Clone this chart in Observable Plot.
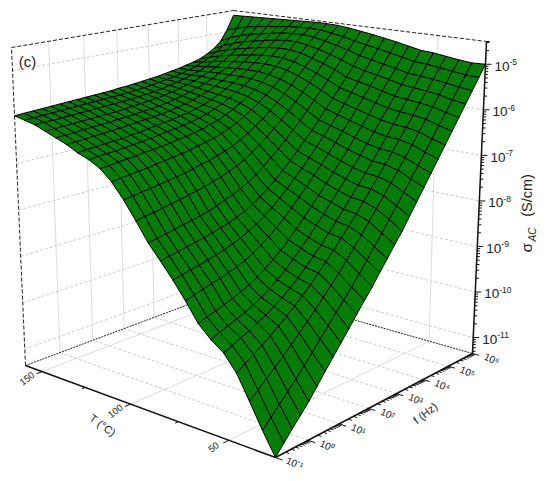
<!DOCTYPE html>
<html><head><meta charset="utf-8">
<style>html,body{margin:0;padding:0;background:#fff}svg{display:block}</style>
<script src="https://cdn.jsdelivr.net/npm/d3@7"></script>
<script src="https://cdn.jsdelivr.net/npm/@observablehq/plot@0.6"></script>
</head><body><div id="chart"></div>
<script>
const temperatures = [28,34,40,46,52,58,64,70,76,82,88,94,100,106,112,118,124,130,136,142,148,154,160];
const logFreqs = [-1,-0.75,-0.5,-0.25,0,0.25,0.5,0.75,1,1.25,1.5,1.75,2,2.25,2.5,2.75,3,3.25,3.5,3.75,4,4.25,4.5,4.75,5,5.25,5.5,5.75,6];
const logSigma = [
[-11.35,-11.16,-10.97,-10.79,-10.60,-10.39,-10.17,-9.96,-9.75,-9.54,-9.32,-9.11,-8.90,-8.67,-8.45,-8.22,-8.00,-7.75,-7.50,-7.25,-7.00,-6.75,-6.50,-6.25,-6.00,-5.75,-5.50,-5.25,-5.00],
[-10.93,-10.76,-10.59,-10.42,-10.25,-10.07,-9.88,-9.68,-9.49,-9.29,-9.11,-8.91,-8.71,-8.49,-8.27,-8.05,-7.82,-7.59,-7.36,-7.13,-6.90,-6.66,-6.42,-6.18,-5.94,-5.71,-5.47,-5.24,-5.01],
[-10.46,-10.32,-10.17,-10.03,-9.89,-9.73,-9.57,-9.41,-9.24,-9.06,-8.88,-8.70,-8.50,-8.30,-8.09,-7.87,-7.66,-7.44,-7.22,-7.00,-6.78,-6.55,-6.32,-6.09,-5.86,-5.64,-5.42,-5.20,-4.98],
[-10.00,-9.89,-9.79,-9.68,-9.56,-9.44,-9.31,-9.17,-9.03,-8.87,-8.70,-8.53,-8.35,-8.16,-7.97,-7.77,-7.56,-7.35,-7.14,-6.93,-6.71,-6.49,-6.27,-6.05,-5.82,-5.60,-5.38,-5.16,-4.94],
[-9.69,-9.62,-9.54,-9.47,-9.38,-9.30,-9.19,-9.08,-8.95,-8.81,-8.65,-8.48,-8.31,-8.12,-7.93,-7.73,-7.53,-7.33,-7.12,-6.91,-6.69,-6.47,-6.25,-6.02,-5.79,-5.57,-5.35,-5.12,-4.90],
[-9.51,-9.44,-9.38,-9.31,-9.25,-9.16,-9.08,-8.97,-8.85,-8.70,-8.55,-8.38,-8.21,-8.02,-7.84,-7.64,-7.45,-7.25,-7.05,-6.84,-6.63,-6.42,-6.20,-5.98,-5.76,-5.54,-5.32,-5.10,-4.88],
[-9.27,-9.21,-9.16,-9.10,-9.04,-8.97,-8.90,-8.80,-8.69,-8.56,-8.43,-8.27,-8.10,-7.92,-7.73,-7.55,-7.35,-7.16,-6.96,-6.76,-6.55,-6.34,-6.13,-5.91,-5.69,-5.47,-5.26,-5.04,-4.82],
[-8.90,-8.85,-8.80,-8.75,-8.71,-8.65,-8.60,-8.53,-8.44,-8.33,-8.22,-8.08,-7.93,-7.77,-7.59,-7.42,-7.23,-7.05,-6.86,-6.66,-6.46,-6.26,-6.05,-5.84,-5.62,-5.41,-5.20,-4.98,-4.76],
[-8.56,-8.52,-8.48,-8.45,-8.40,-8.36,-8.31,-8.25,-8.19,-8.10,-8.01,-7.89,-7.77,-7.62,-7.47,-7.30,-7.13,-6.95,-6.76,-6.57,-6.38,-6.18,-5.98,-5.77,-5.56,-5.35,-5.14,-4.92,-4.71],
[-8.25,-8.21,-8.18,-8.14,-8.11,-8.07,-8.03,-7.98,-7.94,-7.87,-7.80,-7.70,-7.60,-7.47,-7.34,-7.18,-7.02,-6.85,-6.67,-6.49,-6.30,-6.10,-5.90,-5.70,-5.50,-5.29,-5.08,-4.87,-4.66],
[-7.95,-7.92,-7.88,-7.85,-7.81,-7.78,-7.74,-7.70,-7.64,-7.57,-7.51,-7.43,-7.34,-7.23,-7.10,-6.96,-6.81,-6.66,-6.49,-6.32,-6.14,-5.95,-5.76,-5.57,-5.37,-5.18,-4.99,-4.81,-4.62],
[-7.57,-7.54,-7.51,-7.48,-7.44,-7.41,-7.37,-7.33,-7.29,-7.23,-7.19,-7.12,-7.05,-6.96,-6.85,-6.73,-6.60,-6.46,-6.31,-6.15,-5.98,-5.81,-5.63,-5.45,-5.27,-5.09,-4.92,-4.75,-4.58],
[-7.21,-7.18,-7.15,-7.13,-7.10,-7.07,-7.04,-7.01,-6.97,-6.92,-6.89,-6.83,-6.78,-6.71,-6.62,-6.52,-6.41,-6.29,-6.15,-6.00,-5.85,-5.69,-5.52,-5.35,-5.18,-5.01,-4.85,-4.70,-4.55],
[-6.90,-6.87,-6.85,-6.83,-6.81,-6.78,-6.75,-6.73,-6.70,-6.67,-6.63,-6.59,-6.55,-6.49,-6.42,-6.34,-6.24,-6.13,-6.01,-5.88,-5.74,-5.59,-5.43,-5.27,-5.10,-4.95,-4.80,-4.66,-4.54],
[-6.68,-6.67,-6.64,-6.63,-6.61,-6.58,-6.57,-6.55,-6.52,-6.49,-6.47,-6.43,-6.40,-6.34,-6.29,-6.21,-6.13,-6.03,-5.92,-5.80,-5.67,-5.53,-5.38,-5.22,-5.06,-4.91,-4.77,-4.65,-4.54],
[-6.55,-6.53,-6.52,-6.51,-6.49,-6.47,-6.45,-6.43,-6.40,-6.37,-6.35,-6.32,-6.29,-6.24,-6.19,-6.12,-6.05,-5.96,-5.86,-5.75,-5.63,-5.50,-5.36,-5.21,-5.06,-4.91,-4.78,-4.66,-4.55],
[-6.46,-6.44,-6.43,-6.41,-6.40,-6.39,-6.36,-6.35,-6.31,-6.29,-6.26,-6.24,-6.20,-6.17,-6.12,-6.07,-6.00,-5.92,-5.83,-5.73,-5.62,-5.50,-5.37,-5.23,-5.08,-4.94,-4.80,-4.68,-4.56],
[-6.34,-6.33,-6.31,-6.30,-6.29,-6.27,-6.26,-6.24,-6.22,-6.20,-6.18,-6.16,-6.13,-6.10,-6.06,-6.01,-5.95,-5.89,-5.81,-5.72,-5.62,-5.51,-5.39,-5.26,-5.12,-4.98,-4.84,-4.71,-4.57],
[-6.25,-6.24,-6.23,-6.21,-6.20,-6.19,-6.18,-6.16,-6.15,-6.13,-6.11,-6.09,-6.07,-6.04,-6.00,-5.96,-5.91,-5.85,-5.79,-5.71,-5.62,-5.53,-5.42,-5.30,-5.17,-5.03,-4.89,-4.74,-4.58],
[-6.16,-6.15,-6.14,-6.13,-6.12,-6.11,-6.10,-6.09,-6.08,-6.06,-6.04,-6.02,-6.00,-5.98,-5.95,-5.91,-5.87,-5.82,-5.77,-5.70,-5.63,-5.55,-5.45,-5.34,-5.22,-5.08,-4.93,-4.77,-4.59],
[-6.07,-6.06,-6.06,-6.05,-6.04,-6.03,-6.02,-6.01,-6.00,-5.99,-5.98,-5.97,-5.95,-5.93,-5.91,-5.88,-5.84,-5.80,-5.76,-5.71,-5.65,-5.58,-5.49,-5.39,-5.28,-5.15,-5.00,-4.82,-4.60],
[-6.02,-6.01,-6.00,-5.99,-5.98,-5.97,-5.96,-5.95,-5.94,-5.93,-5.92,-5.91,-5.90,-5.88,-5.86,-5.84,-5.81,-5.78,-5.75,-5.71,-5.66,-5.61,-5.54,-5.46,-5.36,-5.24,-5.08,-4.88,-4.61],
[-5.97,-5.96,-5.95,-5.94,-5.93,-5.92,-5.91,-5.90,-5.89,-5.88,-5.87,-5.86,-5.84,-5.83,-5.81,-5.79,-5.77,-5.75,-5.72,-5.69,-5.66,-5.62,-5.58,-5.53,-5.45,-5.35,-5.20,-4.95,-4.62]
];
const tempTicks = [50,100,150];
const tempMinor = [75,125];
const freqTicks = [-1,0,1,2,3,4,5,6];
const sigmaTicks = [-11,-10,-9,-8,-7,-6,-5];
const supers = {"-":"⁻","0":"⁰","1":"¹","2":"²","3":"³","4":"⁴","5":"⁵","6":"⁶"};

// View of the box: where its eight corners land on the page
const view = {
  floor:[[275,457],[25,365],[236,286],[472,353]],
  top:[[277,94],[11,47],[233,10],[486,41]],
  tMin:28, tMax:160, fMin:-1, fMax:6, zMin:-11.35, zMax:-4.5
};
function homography(q){
  const [[x0,y0],[x1,y1],[x2,y2],[x3,y3]] = q;
  const dx1=x1-x2,dx2=x3-x2,sx=x0-x1+x2-x3,dy1=y1-y2,dy2=y3-y2,sy=y0-y1+y2-y3;
  const det=dx1*dy2-dx2*dy1, g=(sx*dy2-dx2*sy)/det, h=(dx1*sy-sx*dy1)/det;
  const a=x1-x0+g*x1,b=x3-x0+h*x3,d=y1-y0+g*y1,e=y3-y0+h*y3;
  return (u,v)=>{const w=g*u+h*v+1;return [(a*u+b*v+x0)/w,(d*u+e*v+y0)/w];};
}
const floorH=homography(view.floor), topH=homography(view.top);
function project(T,lf,z){
  const u=(T-view.tMin)/(view.tMax-view.tMin), v=(lf-view.fMin)/(view.fMax-view.fMin), w=(z-view.zMin)/(view.zMax-view.zMin);
  const p=floorH(u,v), q=topH(u,v);
  return {x:p[0]+(q[0]-p[0])*w, y:p[1]+(q[1]-p[1])*w};
}
const {tMin,tMax,fMin,fMax,zMin,zMax}=view;

// surface cells, far corner first
const cells=[];
for(let i=temperatures.length-2;i>=0;i--) for(let j=logFreqs.length-2;j>=0;j--){
  const id=i+"_"+j;
  [[i,j],[i+1,j],[i+1,j+1],[i,j+1],[i,j]].forEach(([a,b])=>{
    cells.push({id,...project(temperatures[a],logFreqs[b],logSigma[a][b])});
  });
}
function seg(a,b){const p=project(...a),q=project(...b);return {x1:p.x,y1:p.y,x2:q.x,y2:q.y};}
const link=(rows,o)=>Plot.link(rows,{x1:"x1",y1:"y1",x2:"x2",y2:"y2",...o});

const gridDashed=[], gridSolid=[];
sigmaTicks.forEach(z=>{
  gridDashed.push(seg([tMax,fMin,z],[tMax,fMax,z]));
  gridDashed.push(seg([tMax,fMax,z],[tMin,fMax,z]));
});
freqTicks.slice(1,-1).forEach(f=>{
  gridSolid.push(seg([tMax,f,zMin],[tMax,f,zMax]));
  gridDashed.push(seg([tMin,f,zMin],[tMax,f,zMin]));
});
tempTicks.forEach(T=>{
  gridSolid.push(seg([T,fMax,zMin],[T,fMax,zMax]));
  gridSolid.push(seg([T,fMin,zMin],[T,fMax,zMin]));
});
const frameDashed=[seg([tMax,fMin,zMin],[tMax,fMin,zMax]),seg([tMax,fMin,zMax],[tMax,fMax,zMax]),seg([tMax,fMax,zMax],[tMin,fMax,zMax])];
const frameDotted=[seg([tMax,fMin,zMin],[tMax,fMax,zMin]),seg([tMax,fMax,zMin],[tMin,fMax,zMin])];
const axesLines=[seg([tMax,fMin,zMin],[tMin,fMin,zMin]),seg([tMin,fMin,zMin],[tMin,fMax,zMin]),seg([tMin,fMax,zMin],[tMin,fMax,zMax])];

const ticks=[];
tempTicks.forEach(T=>ticks.push(seg([T,fMin,zMin],[T,fMin-0.16,zMin])));
tempMinor.forEach(T=>ticks.push(seg([T,fMin,zMin],[T,fMin-0.09,zMin])));
freqTicks.forEach(f=>ticks.push(seg([tMin,f,zMin],[tMin-3.2,f,zMin])));
[2,3,4,5,6,7,8,9].forEach(m=>freqTicks.slice(0,-1).forEach(f=>ticks.push(seg([tMin,f+Math.log10(m),zMin],[tMin-1.7,f+Math.log10(m),zMin]))));
function zTick(z,len){const p=project(tMin,fMax,z);return {x1:p.x,y1:p.y,x2:p.x+len,y2:p.y};}
sigmaTicks.forEach(z=>ticks.push(zTick(z,6)));
[2,3,4,5,6,7,8,9].forEach(m=>[-12,...sigmaTicks].forEach(z=>{const t=z+Math.log10(m);if(t>zMin&&t<zMax)ticks.push(zTick(t,3));}));
[-4.5].forEach(z=>ticks.push(zTick(z,3)));

const zLabels=sigmaTicks.map(z=>{const p=project(tMin,fMax,z);return {x:p.x+9,y:p.y+2,ex:p.x+24,ey:p.y-2,e:String(z)};});
const tLabels=tempTicks.map(T=>{const p=project(T,fMin,zMin);return {x:p.x-15,y:p.y+7,text:String(T)};});
const fLabels=freqTicks.map(f=>{const p=project(tMin,f,zMin);return {x:p.x+19,y:p.y+6,text:"10"+String(f).split("").map(c=>supers[c]).join("")};});
const font="Liberation Sans";

const chart=Plot.plot({
  width:550,height:481,margin:0,
  style:{background:"#fff",fontFamily:font},
  x:{domain:[0,550],range:[0,550],axis:null},
  y:{domain:[0,481],range:[0,481],axis:null},
  marks:[
    link(gridSolid,{stroke:"#dcdcdc",strokeWidth:1}),
    link(gridDashed,{stroke:"#cccccc",strokeWidth:1,strokeDasharray:"3,2"}),
    link(frameDashed,{stroke:"#222",strokeWidth:1,strokeDasharray:"4,2"}),
    link(frameDotted,{stroke:"#222",strokeWidth:1,strokeDasharray:"2,1"}),
    Plot.line(cells,{x:"x",y:"y",z:"id",fill:"#067d06",stroke:"#000",strokeWidth:1,strokeLinejoin:"round",curve:"linear"}),
    link(axesLines,{stroke:"#111",strokeWidth:1.5}),
    link(ticks,{stroke:"#111",strokeWidth:1}),
    Plot.text(zLabels,{x:"x",y:"y",text:()=>"10",textAnchor:"start",fontSize:13.5,fill:"#222"}),
    Plot.text(zLabels,{x:"ex",y:"ey",text:"e",textAnchor:"start",fontSize:8.5,fill:"#222"}),
    Plot.text(tLabels,{x:"x",y:"y",text:"text",rotate:-38,fontSize:9.5,fill:"#222"}),
    Plot.text(fLabels,{x:"x",y:"y",text:"text",rotate:24,fontSize:10,fill:"#222"}),
    Plot.text([{x:102,y:425,t:"T (°C)"}],{x:"x",y:"y",text:"t",rotate:36,fontSize:11,fill:"#222"}),
    Plot.text([{x:425,y:413,t:"f (Hz)"}],{x:"x",y:"y",text:"t",rotate:-38,fontSize:11,fill:"#222"}),
    Plot.text([{x:27,y:62,t:"(c)"}],{x:"x",y:"y",text:"t",fontSize:15,fill:"#222"}),
    Plot.text([{x:527,y:247,t:"σ"}],{x:"x",y:"y",text:"t",rotate:-90,fontSize:15,fill:"#222"}),
    Plot.text([{x:532,y:234,t:"AC"}],{x:"x",y:"y",text:"t",rotate:-90,fontSize:10,fontStyle:"italic",fill:"#222"}),
    Plot.text([{x:527,y:195,t:"(S/cm)"}],{x:"x",y:"y",text:"t",rotate:-90,fontSize:14.5,fill:"#222"})
  ]
});
document.getElementById("chart").appendChild(chart);
</script></body></html>
